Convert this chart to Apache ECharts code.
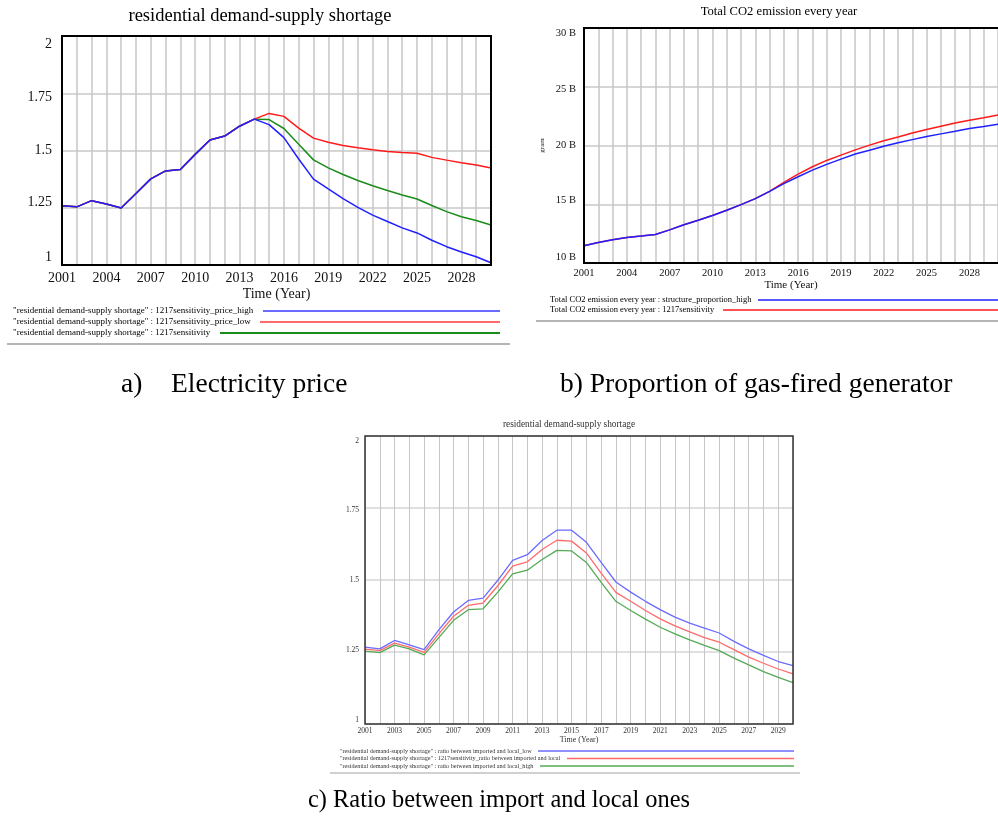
<!DOCTYPE html>
<html><head><meta charset="utf-8">
<script src="https://cdn.jsdelivr.net/npm/echarts@6.0.0/dist/echarts.min.js"></script>
<style>html,body{margin:0;padding:0;background:#fff}#c{width:998px;height:823px}</style>
</head><body><div id="c"></div>
<script>
const years = [2001,2002,2003,2004,2005,2006,2007,2008,2009,2010,2011,2012,2013,2014,2015,2016,2017,2018,2019,2020,2021,2022,2023,2024,2025,2026,2027,2028,2029,2030];

// a) Electricity price
const aPriceHigh = [1.259,1.254,1.281,1.266,1.249,1.312,1.376,1.411,1.417,1.483,1.546,1.563,1.606,1.637,1.613,1.556,1.463,1.375,1.332,1.290,1.252,1.218,1.190,1.162,1.140,1.108,1.080,1.057,1.036,1.010];
const aPriceLow  = [1.259,1.254,1.281,1.266,1.249,1.312,1.376,1.411,1.417,1.483,1.546,1.563,1.606,1.637,1.662,1.649,1.598,1.554,1.536,1.522,1.512,1.503,1.496,1.491,1.488,1.470,1.458,1.447,1.437,1.424];
const aBase      = [1.259,1.254,1.281,1.266,1.249,1.312,1.376,1.411,1.417,1.483,1.546,1.563,1.606,1.637,1.635,1.596,1.527,1.459,1.424,1.395,1.369,1.346,1.325,1.306,1.288,1.260,1.233,1.211,1.194,1.175];

// b) Proportion of gas-fired generator (billion gram)
const bProportionHigh = [11.47,11.75,11.98,12.18,12.29,12.43,12.82,13.25,13.64,14.04,14.49,14.97,15.48,16.10,16.75,17.34,17.90,18.39,18.84,19.27,19.60,19.94,20.23,20.50,20.76,20.99,21.21,21.44,21.61,21.80];
const bBase           = [11.47,11.75,11.98,12.18,12.29,12.43,12.82,13.25,13.64,14.04,14.49,14.97,15.48,16.10,16.86,17.57,18.19,18.73,19.18,19.63,20.03,20.40,20.73,21.07,21.36,21.64,21.92,22.15,22.37,22.60];

// c) Ratio between import and local ones
const cRatioLow  = [1.267,1.261,1.290,1.275,1.258,1.327,1.389,1.429,1.437,1.499,1.568,1.588,1.637,1.673,1.673,1.631,1.561,1.493,1.458,1.426,1.397,1.371,1.350,1.333,1.316,1.287,1.261,1.238,1.217,1.203];
const cBase      = [1.260,1.255,1.281,1.267,1.249,1.313,1.374,1.412,1.420,1.480,1.548,1.563,1.606,1.638,1.635,1.594,1.524,1.457,1.426,1.394,1.365,1.341,1.320,1.300,1.284,1.258,1.232,1.211,1.191,1.174];
const cRatioHigh = [1.253,1.248,1.274,1.261,1.240,1.300,1.360,1.397,1.400,1.458,1.521,1.534,1.571,1.603,1.601,1.561,1.492,1.426,1.394,1.364,1.336,1.313,1.292,1.273,1.255,1.229,1.205,1.182,1.162,1.144];

const aLegend = [
  '"residential demand-supply shortage" : 1217sensitivity_price_high',
  '"residential demand-supply shortage" : 1217sensitivity_price_low',
  '"residential demand-supply shortage" : 1217sensitivity'
];
const bLegend = [
  'Total CO2 emission every year : structure_proportion_high',
  'Total CO2 emission every year : 1217sensitivity'
];
const cLegend = [
  '"residential demand-supply shortage" : ratio between imported and local_low',
  '"residential demand-supply shortage" : 1217sensitivity_ratio between imported and local',
  '"residential demand-supply shortage" : ratio between imported and local_high'
];

const SERIF = '"Liberation Serif","Times New Roman",serif';
const GA = {left:62, top:36, width:429, height:229};
const GB = {left:584, top:28, width:417, height:235};
const GC = {left:365, top:436, width:428, height:288};

function pairs(vals){ return years.map((y,i)=>[y, vals[i]]); }

function xAx(idx, step, fs, margin, nameGap, nameFs, col){
  return {
    gridIndex: idx, type:'value', min:2001, max:2030, interval:1,
    axisLine:{show:false}, axisTick:{show:false},
    splitLine:{show:true, lineStyle:{color:'#c6c6c6', width: idx===2?1:1.5}},
    axisLabel:{formatter: v => ((v-2001)%step===0 ? String(v) : ''), margin:margin,
      fontFamily:SERIF, fontSize:fs, color:col, showMaxLabel:false},
    name:'Time (Year)', nameLocation:'middle', nameGap:nameGap,
    nameTextStyle:{fontFamily:SERIF, fontSize:nameFs, color:col}
  };
}
// Vensim draws the y labels slightly pulled toward the middle: shift (px, + = down) for each tick from bottom to top
function yAx(idx, min, max, interval, fs, margin, fmt, col, shifts){
  const rich = {};
  shifts.forEach((d,i)=>{
    rich['s'+i] = {fontFamily:SERIF, fontSize:fs, color:col,
      padding: d>=0 ? [2*d,0,0,0] : [0,0,-2*d,0]};
  });
  return {
    gridIndex: idx, type:'value', min:min, max:max, interval:interval,
    axisLine:{show:false}, axisTick:{show:false},
    splitLine:{show:true, lineStyle:{color:'#d6d6d6', width: idx===2?1.5:2}},
    axisLabel:{formatter: v => '{s'+Math.round((v-min)/interval)+'|'+fmt(v)+'}', rich:rich,
      margin:margin, fontFamily:SERIF, fontSize:fs, color:col}
  };
}
function ser(name, xi, vals, color, width, z){
  return {name:name, type:'line', xAxisIndex:xi, yAxisIndex:xi, data:pairs(vals),
    symbol:'none', showSymbol:false, silent:true, z:z,
    lineStyle:{color:color, width:width}, itemStyle:{color:color}};
}
function txt(x, y, text, size, align, color){
  return {type:'text', x:x, y:y, silent:true, z:100,
    style:{text:text, font: size+'px '+SERIF, fill:color||'#000',
      align:align||'left', textAlign:align||'left', verticalAlign:'middle', textVerticalAlign:'middle'}};
}
function ln(x1, y1, x2, y2, color, w){
  return {type:'line', silent:true, z:100, shape:{x1:x1,y1:y1,x2:x2,y2:y2}, style:{stroke:color, lineWidth:w}};
}
function box(g, color, w){
  return {type:'rect', silent:true, z:100, shape:{x:g.left, y:g.top, width:g.width, height:g.height},
    style:{fill:'none', stroke:color, lineWidth:w}};
}

const C_BLUE='#1f1fff', C_RED='#ff1a1a', C_GREEN='#1a8c1a';
const L_BLUE='#6b6bff', L_RED='#ff6b6b', L_GREEN='#55aa55';

const chart = echarts.init(document.getElementById('c'));
chart.setOption({
  animation:false,
  backgroundColor:'#ffffff',
  grid:[
    Object.assign({show:true, borderWidth:0, backgroundColor:'#fff', containLabel:false}, GA),
    Object.assign({show:true, borderWidth:0, backgroundColor:'#fff', containLabel:false}, GB),
    Object.assign({show:true, borderWidth:0, backgroundColor:'#fff', containLabel:false}, GC)
  ],
  xAxis:[
    xAx(0, 3, 14, 6, 22, 14, '#111'),
    xAx(1, 3, 10.5, 5, 16, 11, '#111'),
    xAx(2, 2, 7.5, 3, 11, 8, '#333')
  ],
  yAxis:[
    yAx(0, 1, 2, 0.25, 14, 10, v => String(v), '#111', [-8,-5,0,4,8]),
    Object.assign(yAx(1, 10, 30, 5, 10.5, 8, v => v + ' B', '#111', [-6,-4,0,2,5]),
      {name:'gram', nameLocation:'middle', nameRotate:90, nameGap:38,
       nameTextStyle:{fontFamily:SERIF, fontSize:7, color:'#111'}}),
    yAx(2, 1, 2, 0.25, 7.5, 6, v => String(v), '#333', [-4,-2,0,2,5])
  ],
  series:[
    ser(aLegend[2], 0, aBase, C_GREEN, 1.5, 2),
    ser(aLegend[1], 0, aPriceLow, C_RED, 1.5, 3),
    ser(aLegend[0], 0, aPriceHigh, C_BLUE, 1.5, 4),
    ser(bLegend[1], 1, bBase, C_RED, 1.5, 2),
    ser(bLegend[0], 1, bProportionHigh, C_BLUE, 1.5, 3),
    ser(cLegend[2], 2, cRatioHigh, L_GREEN, 1.3, 2),
    ser(cLegend[1], 2, cBase, L_RED, 1.3, 3),
    ser(cLegend[0], 2, cRatioLow, L_BLUE, 1.3, 4)
  ],
  graphic:[
    box(GA, '#000', 2), box(GB, '#000', 2), box(GC, '#333', 1.5),
    // titles
    txt(260, 16, 'residential demand-supply shortage', 18.5, 'center', '#000'),
    txt(779, 12, 'Total CO2 emission every year', 12.6, 'center', '#000'),
    txt(569, 425, 'residential demand-supply shortage', 9.3, 'center', '#333'),
    // legend a
    txt(13, 311, aLegend[0], 9, 'left', '#000'), ln(263, 311, 500, 311, L_BLUE, 2),
    txt(13, 322, aLegend[1], 9, 'left', '#000'), ln(260, 322, 500, 322, L_RED, 2),
    txt(13, 333, aLegend[2], 9, 'left', '#000'), ln(220, 333, 500, 333, C_GREEN, 2),
    ln(7, 344, 510, 344, '#b4b4b4', 2),
    // legend b
    txt(550, 300, bLegend[0], 8.5, 'left', '#000'), ln(758, 300, 998, 300, C_BLUE, 1.5),
    txt(550, 310, bLegend[1], 8.5, 'left', '#000'), ln(723, 310, 998, 310, C_RED, 1.5),
    ln(536, 321, 998, 321, '#b4b4b4', 2),
    // legend c
    txt(340, 751, cLegend[0], 6.2, 'left', '#333'), ln(538, 751, 794, 751, L_BLUE, 1.3),
    txt(340, 758.5, cLegend[1], 6.2, 'left', '#333'), ln(567, 758.5, 794, 758.5, L_RED, 1.3),
    txt(340, 766, cLegend[2], 6.2, 'left', '#333'), ln(540, 766, 794, 766, L_GREEN, 1.3),
    ln(330, 773, 800, 773, '#c0c0c0', 1.5),
    // captions
    txt(121, 385, 'a)', 27.5, 'left', '#000'),
    txt(171, 385, 'Electricity price', 27.5, 'left', '#000'),
    txt(560, 385, 'b) Proportion of gas-fired generator', 27.5, 'left', '#000'),
    txt(308, 801, 'c) Ratio between import and local ones', 24.4, 'left', '#000')
  ]
});
</script>
</body></html>
